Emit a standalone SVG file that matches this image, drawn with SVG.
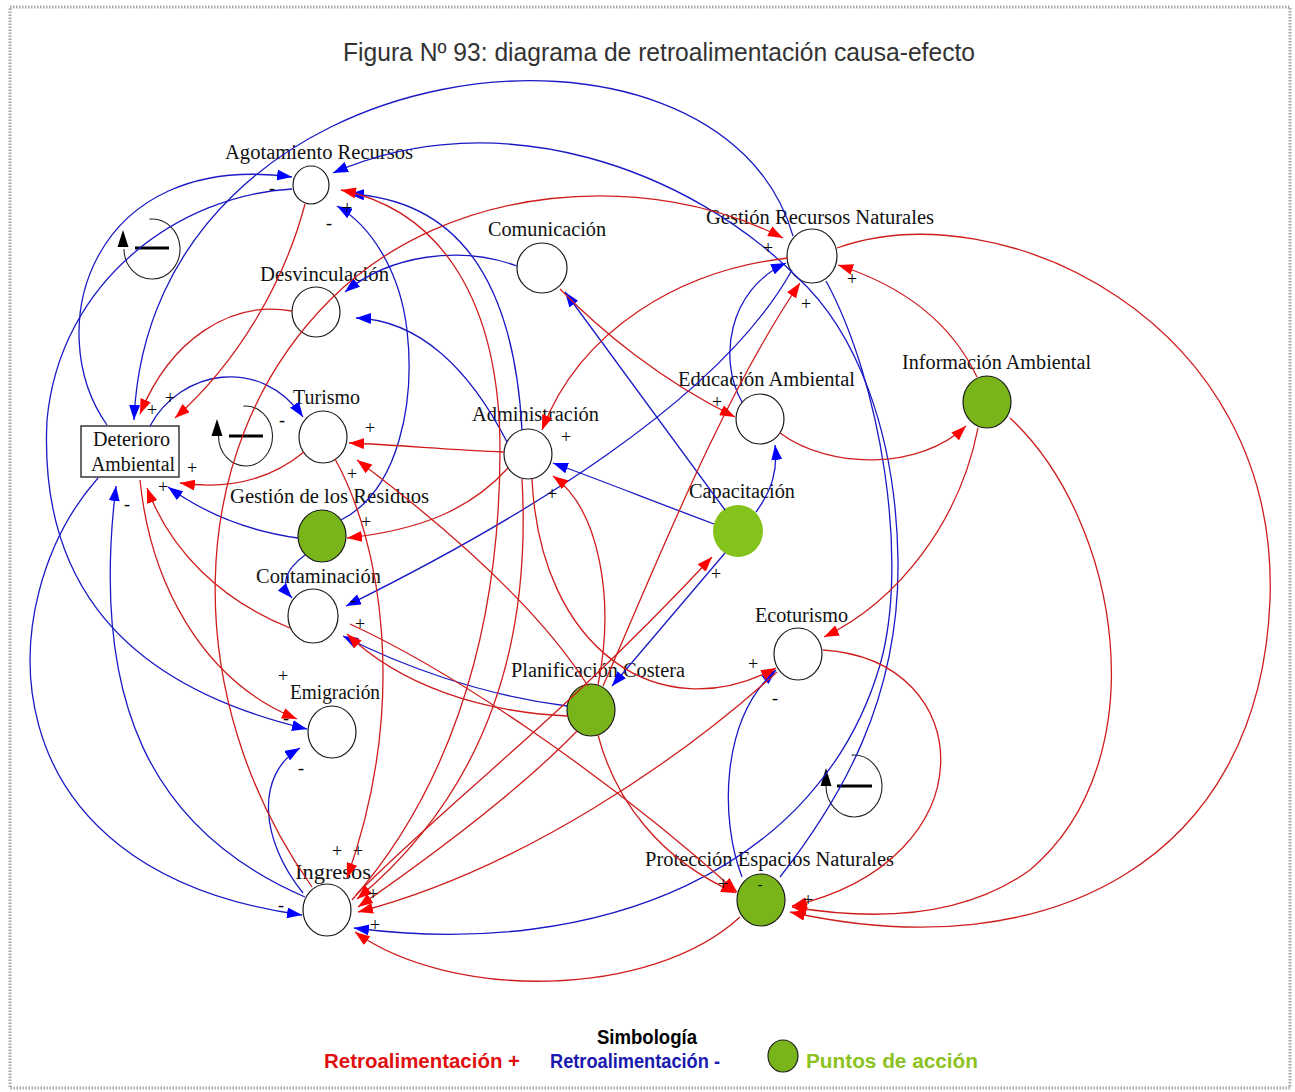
<svg xmlns="http://www.w3.org/2000/svg" width="1295" height="1092" viewBox="0 0 1295 1092">
<defs>
<style>
.r{fill:none;stroke:#cf1d1d;stroke-width:1.3;marker-end:url(#mr)}
.b{fill:none;stroke:#1a1ac4;stroke-width:1.3;marker-end:url(#mb)}
.n{fill:none;stroke:#1a1a1a;stroke-width:1.2}
.g{fill:#79b51a;stroke:#1a1a1a;stroke-width:1.2}
.lb{font-family:"Liberation Serif","Times New Roman",serif;font-size:20px;fill:#111}
.sg{font-family:"Liberation Serif","Times New Roman",serif;font-size:18px;fill:#000;text-anchor:middle}
.lg{font-family:"Liberation Sans",Arial,sans-serif;font-size:20px;font-weight:bold}
.loop{fill:none;stroke:#222;stroke-width:1.1}
</style>
<marker id="mr" viewBox="0 0 15 11" refX="15" refY="5.5" markerWidth="15" markerHeight="11" markerUnits="userSpaceOnUse" orient="auto"><path d="M0,0 L15,5.5 L0,11 z" fill="#ff0000"/></marker>
<marker id="mb" viewBox="0 0 15 11" refX="15" refY="5.5" markerWidth="15" markerHeight="11" markerUnits="userSpaceOnUse" orient="auto"><path d="M0,0 L15,5.5 L0,11 z" fill="#0000ff"/></marker>
</defs>
<rect x="0" y="0" width="1295" height="1092" fill="#ffffff"/>
<rect x="10" y="7" width="1280" height="1081" fill="none" stroke="#a8a8a8" stroke-width="3" stroke-dasharray="1.5,1.5"/>
<text x="343" y="61" textLength="632" lengthAdjust="spacingAndGlyphs" style="font-family:'Liberation Sans',Arial,sans-serif;font-size:26px;fill:#333">Figura Nº 93: diagrama de retroalimentación causa-efecto</text>

<g id="loop1"><path class="loop" d="M149.6,219.1 A28,30 0 1 1 124,249"/><path d="M123,230 L117.5,247 L128.5,247 z" fill="#000"/><line x1="135" y1="248" x2="169" y2="248" stroke="#000" stroke-width="3"/></g>
<g id="loop2"><path class="loop" d="M243.6,406.1 A27,30 0 1 1 218.5,436"/><path d="M217,419 L211.5,436 L222.5,436 z" fill="#000"/><line x1="229" y1="436" x2="263" y2="436" stroke="#000" stroke-width="3"/></g>
<g id="loop3"><path class="loop" d="M851.6,755.1 A28,31 0 1 1 826,786"/><path d="M826,768 L820.5,786 L831.5,786 z" fill="#000"/><line x1="837" y1="786" x2="872" y2="786" stroke="#000" stroke-width="3"/></g>

<g id="n-agotamiento"><ellipse class="n" cx="311" cy="185" rx="18" ry="19"/><text class="lb" x="225" y="159" textLength="188" lengthAdjust="spacingAndGlyphs">Agotamiento Recursos</text></g>
<g id="n-desvinculacion"><ellipse class="n" cx="316" cy="312" rx="24" ry="25"/><text class="lb" x="260" y="281" textLength="129" lengthAdjust="spacingAndGlyphs">Desvinculación</text></g>
<g id="n-comunicacion"><ellipse class="n" cx="542" cy="268" rx="25" ry="25"/><text class="lb" x="488" y="236" textLength="118" lengthAdjust="spacingAndGlyphs">Comunicación</text></g>
<g id="n-gestion-recursos"><ellipse class="n" cx="812" cy="256" rx="25" ry="27"/><text class="lb" x="706" y="224" textLength="228" lengthAdjust="spacingAndGlyphs">Gestión Recursos Naturales</text></g>
<g id="n-turismo"><ellipse class="n" cx="323" cy="437" rx="24" ry="26"/><text class="lb" x="293" y="404" textLength="67" lengthAdjust="spacingAndGlyphs">Turismo</text></g>
<g id="n-deterioro"><rect x="81" y="426" width="98" height="51" fill="#fff" stroke="#1a1a1a" stroke-width="1.3"/><text class="lb" x="93" y="446" textLength="77" lengthAdjust="spacingAndGlyphs">Deterioro</text><text class="lb" x="91" y="471" textLength="84" lengthAdjust="spacingAndGlyphs">Ambiental</text></g>
<g id="n-administracion"><ellipse class="n" cx="528" cy="454" rx="24" ry="25"/><text class="lb" x="472" y="421" textLength="127" lengthAdjust="spacingAndGlyphs">Administración</text></g>
<g id="n-educacion"><ellipse class="n" cx="760" cy="419" rx="24" ry="25"/><text class="lb" x="678" y="386" textLength="177" lengthAdjust="spacingAndGlyphs">Educación Ambiental</text></g>
<g id="n-informacion"><ellipse class="g" cx="987" cy="402" rx="24" ry="26"/><text class="lb" x="902" y="369" textLength="189" lengthAdjust="spacingAndGlyphs">Información Ambiental</text></g>
<g id="n-residuos"><ellipse class="g" cx="322" cy="536" rx="24" ry="26"/><text class="lb" x="230" y="503" textLength="199" lengthAdjust="spacingAndGlyphs">Gestión de los Residuos</text></g>
<g id="n-capacitacion"><ellipse cx="738" cy="531" rx="25" ry="26" fill="#84c21c"/><text class="lb" x="689" y="498" textLength="106" lengthAdjust="spacingAndGlyphs">Capacitación</text></g>
<g id="n-contaminacion"><ellipse class="n" cx="313" cy="616" rx="25" ry="27"/><text class="lb" x="256" y="583" textLength="125" lengthAdjust="spacingAndGlyphs">Contaminación</text></g>
<g id="n-ecoturismo"><ellipse class="n" cx="798" cy="654" rx="24" ry="26"/><text class="lb" x="755" y="622" textLength="93" lengthAdjust="spacingAndGlyphs">Ecoturismo</text></g>
<g id="n-emigracion"><ellipse class="n" cx="332" cy="732" rx="24" ry="26"/><text class="lb" x="290" y="699" textLength="90" lengthAdjust="spacingAndGlyphs">Emigración</text></g>
<g id="n-planificacion"><ellipse class="g" cx="591" cy="710" rx="24" ry="26"/><text class="lb" x="511" y="677" textLength="174" lengthAdjust="spacingAndGlyphs">Planificación Costera</text></g>
<g id="n-ingresos"><ellipse class="n" cx="327" cy="910" rx="24" ry="26"/><text class="lb" x="295" y="879" textLength="76" lengthAdjust="spacingAndGlyphs">Ingresos</text></g>
<g id="n-proteccion"><ellipse class="g" cx="761" cy="900" rx="24" ry="26"/><text class="lb" x="645" y="866" textLength="249" lengthAdjust="spacingAndGlyphs">Protección Espacios Naturales</text></g>

<g id="connectors">
<path class="b" d="M793,236 C720,-20 150,40 134,420"/>
<path class="b" d="M107,425 C40,330 90,150 292,177"/>
<path class="b" d="M292,189 C180,195 60,280 47,420 C40,560 100,680 307,729"/>
<path class="b" d="M98,478 C-10,600 -20,870 302,915"/>
<path class="b" d="M305,897 C150,830 90,700 116,486"/>
<path class="b" d="M517,266 C460,245 390,255 345,292"/>
<path class="b" d="M507,442 C470,370 420,320 356,318"/>
<path class="b" d="M522,430 C515,300 470,200 349,194"/>
<path class="b" d="M341,520 C400,490 415,400 407,330 C400,270 370,225 337,206"/>
<path class="b" d="M780,877 C840,800 900,700 898,560 C896,430 855,330 797,277 C690,170 500,100 333,173"/>
<path class="b" d="M826,281 C880,380 910,560 880,665 C820,870 600,960 354,928"/>
<path class="b" d="M792,270 C720,400 520,520 346,606"/>
<path class="b" d="M725,510 L565,292"/>
<path class="b" d="M714,524 C650,500 600,480 553,463"/>
<path class="b" d="M756,512 C772,490 778,470 775,445"/>
<path class="b" d="M725,553 L612,686"/>
<path class="b" d="M742,402 C718,360 728,290 786,263"/>
<path class="b" d="M298,538 C240,530 200,510 168,487"/>
<path class="b" d="M305,555 C285,570 280,585 292,598"/>
<path class="b" d="M150,426 C180,370 260,355 303,417"/>
<path class="b" d="M567,706 C480,695 400,665 343,636"/>
<path class="b" d="M742,877 C720,820 720,720 776,670"/>
<path class="b" d="M303,893 C260,840 255,775 300,748"/>

<path class="r" d="M312,887 C180,700 180,450 330,300 C450,180 650,170 783,238"/>
<path class="r" d="M305,204 C285,280 240,360 175,418"/>
<path class="r" d="M292,311 C230,300 170,340 140,414"/>
<path class="r" d="M304,452 C270,480 230,490 180,483"/>
<path class="r" d="M290,628 C220,600 170,550 147,488"/>
<path class="r" d="M335,459 C380,540 410,700 347,878"/>
<path class="r" d="M352,900 C440,800 500,650 500,450 C500,300 440,210 341,190"/>
<path class="r" d="M504,452 C450,450 400,445 349,443"/>
<path class="r" d="M508,468 C470,510 420,530 347,538"/>
<path class="r" d="M788,258 C680,270 580,330 542,430"/>
<path class="r" d="M560,289 C600,330 660,380 735,417"/>
<path class="r" d="M780,433 C830,470 920,470 966,426"/>
<path class="r" d="M977,377 C950,320 900,285 838,265"/>
<path class="r" d="M837,248 C1000,190 1280,320 1270,600 C1260,860 1050,970 790,912"/>
<path class="r" d="M1010,418 C1120,520 1160,760 1030,870 C960,920 870,920 792,907"/>
<path class="r" d="M823,650 C980,660 990,860 792,906"/>
<path class="r" d="M978,428 C960,520 900,600 824,637"/>
<path class="r" d="M740,917 C650,1000 450,1000 355,932"/>
<path class="r" d="M356,895 C450,800 560,720 712,557"/>
<path class="r" d="M603,686 C650,580 720,400 800,283"/>
<path class="r" d="M598,685 C615,600 600,510 553,476"/>
<path class="r" d="M588,686 C540,610 450,530 357,460"/>
<path class="r" d="M522,479 C530,620 500,780 357,899"/>
<path class="r" d="M577,731 C520,790 440,850 358,907"/>
<path class="r" d="M532,479 C540,650 660,730 776,668"/>
<path class="r" d="M350,624 C450,670 600,770 737,892"/>
<path class="r" d="M568,716 C480,712 400,685 347,634"/>
<path class="r" d="M140,480 C150,580 200,680 297,719"/>
<path class="r" d="M598,735 C615,800 660,860 736,893"/>
<path class="r" d="M777,672 C680,760 520,870 358,912"/>
</g>

<g id="signs">
<text class="sg" x="272" y="194">-</text>
<text class="sg" x="347" y="214">+</text>
<text class="sg" x="329" y="229">-</text>
<text class="sg" x="768" y="254">+</text>
<text class="sg" x="852" y="285">+</text>
<text class="sg" x="806" y="310">+</text>
<text class="sg" x="370" y="434">+</text>
<text class="sg" x="282" y="426">-</text>
<text class="sg" x="352" y="480">+</text>
<text class="sg" x="366" y="528">+</text>
<text class="sg" x="152" y="416">+</text>
<text class="sg" x="170" y="404">+</text>
<text class="sg" x="192" y="474">+</text>
<text class="sg" x="163" y="493">+</text>
<text class="sg" x="127" y="510">-</text>
<text class="sg" x="353" y="606">-</text>
<text class="sg" x="360" y="630">+</text>
<text class="sg" x="552" y="500">+</text>
<text class="sg" x="566" y="443">+</text>
<text class="sg" x="717" y="408">+</text>
<text class="sg" x="716" y="580">+</text>
<text class="sg" x="753" y="670">+</text>
<text class="sg" x="775" y="704">-</text>
<text class="sg" x="286" y="724">-</text>
<text class="sg" x="301" y="774">-</text>
<text class="sg" x="283" y="682">+</text>
<text class="sg" x="337" y="857">+</text>
<text class="sg" x="358" y="857">+</text>
<text class="sg" x="373" y="900">+</text>
<text class="sg" x="375" y="931">+</text>
<text class="sg" x="281" y="911">-</text>
<text class="sg" x="723" y="890">+</text>
<text class="sg" x="760" y="889" style="font-size:14px">-</text>
<text class="sg" x="808" y="906">+</text>
</g>

<g id="legend">
<text class="lg" x="597" y="1044" textLength="100" lengthAdjust="spacingAndGlyphs" fill="#000">Simbología</text>
<text class="lg" x="324" y="1068" textLength="196" lengthAdjust="spacingAndGlyphs" fill="#e01010">Retroalimentación +</text>
<text class="lg" x="550" y="1068" textLength="170" lengthAdjust="spacingAndGlyphs" fill="#1a1ab0">Retroalimentación -</text>
<ellipse cx="783" cy="1056" rx="15" ry="16" fill="#79b51a" stroke="#222" stroke-width="1.2"/>
<text class="lg" x="806" y="1068" textLength="172" lengthAdjust="spacingAndGlyphs" fill="#8cc21f">Puntos de acción</text>
</g>
</svg>
